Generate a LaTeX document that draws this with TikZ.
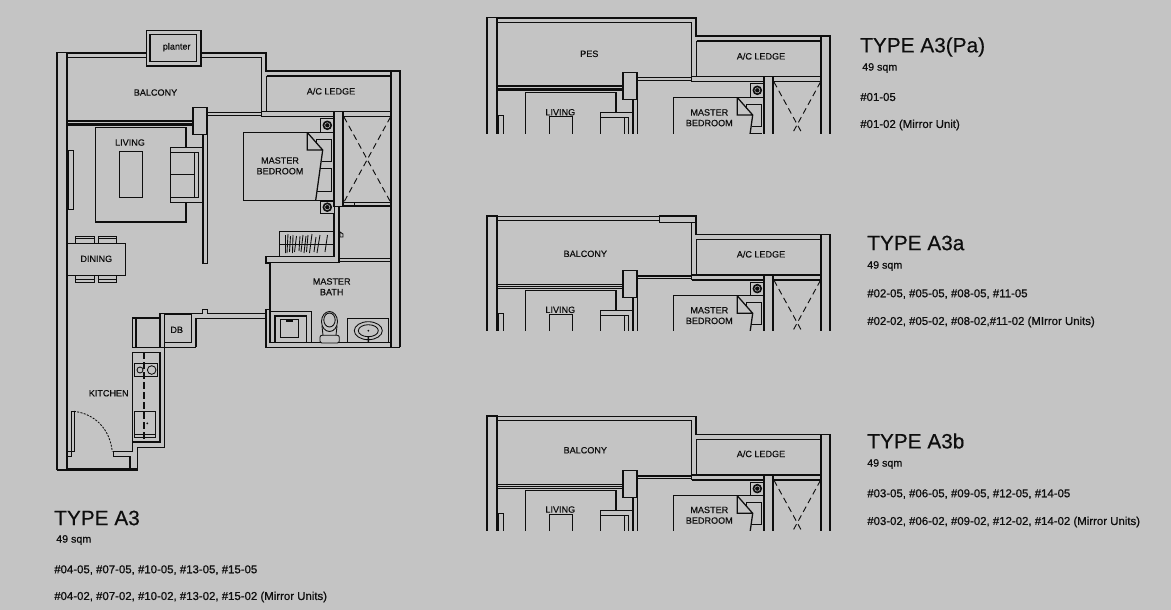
\documentclass[tikz,border=0pt]{standalone}
\usepackage{fontspec}
\setmainfont{Liberation Sans}
\newfontfamily\listfont[FakeBold=0.7]{Liberation Sans}
\newfontfamily\titlefont[FakeBold=0.35]{Liberation Sans}
\newfontfamily\roomfont[FakeBold=0.45]{Liberation Sans}
\usetikzlibrary{positioning}
\definecolor{planbg}{RGB}{196,196,196}
\definecolor{planink}{RGB}{14,14,14}
\tikzset{
    wallline/.style={draw=planink,line width=0.95pt,line join=miter},
    thinline/.style={draw=planink,line width=0.65pt},
    dashline/.style={draw=planink,line width=0.7pt,dash pattern={on 4.5pt off 3pt}},
    roomlabel/.style={inner sep=0pt,align=center,text=planink,yshift=-0.4pt,font=\roomfont\fontsize{6.8}{8}\selectfont},
    typetitle/.style={anchor=west,inner sep=0pt,text=planink,font=\titlefont\fontsize{15.6}{18}\selectfont},
    arealabel/.style={anchor=west,inner sep=0pt,text=planink,yshift=-0.75pt,font=\listfont\fontsize{8}{9}\selectfont},
    unitlist/.style={anchor=west,inner sep=0pt,text=planink,yshift=-0.75pt,font=\listfont\fontsize{8.56}{10}\selectfont}
}
\newcommand{\upperplan}{
    \draw [wallline] (57,470) -- (57,52.7) -- (67,52.7) -- (67,470) ;
    \draw [wallline] (67,53) -- (266,53) -- (266,71) -- (400,71) -- (400,347.3) ;
    \draw [wallline] (391,71) -- (391,347.3) ;
    \draw [wallline] (67,57.3) -- (261.7,57.3) -- (261.7,111.7) ;
    \draw [wallline] (266.5,76) -- (391,76) (266.5,76) -- (266.5,111.7) ;
    \draw [wallline] (261.7,111.7) -- (391,111.7) (261.7,116.7) -- (334,116.7) (343,116.7) -- (391,116.7) (261.7,111.7) -- (261.7,116.7) ;
    \draw [wallline] (207,112.7) -- (261.7,112.7) (207,115.5) -- (261.7,115.5) ;
    \draw [wallline] (67,121) -- (193,121) (67,125) -- (193,125) ;
    \draw [thinline] (67,123) -- (193,123) ;
    \draw [wallline] (193,107.3) rectangle (207,134.5) ;
    \draw [wallline] (203,134.5) -- (203,263.5) -- (207.3,263.5) -- (207.3,134.5) ;
    \draw [wallline] (186,147.5) -- (186,127.3) -- (95.3,127.3) -- (95.3,222) -- (186,222) -- (186,202.7) ;
    \draw [thinline] (119.5,151.5) rectangle (142.5,197.5) ;
    \draw [thinline] (68,150.5) rectangle (73.5,209.5) ;
    \draw [wallline] (170.7,147.3) rectangle (203,202.7) ;
    \draw [thinline] (170.7,152.5) -- (198.5,152.5) -- (198.5,197) -- (170.7,197) (194.7,152.5) -- (194.7,197) (170.7,174.7) -- (194.7,174.7) ;
    \draw [wallline] (334,132.5) -- (243.5,132.5) -- (243.5,200.3) -- (334,200.3) ;
    \draw [wallline] (307.3,132.5) -- (322.7,150) -- (315.7,200.3) (307.3,132.5) -- (307.3,150) -- (322.7,150) ;
    \draw [thinline] (316.7,144) -- (316.7,139.3) -- (331.7,139.3) -- (331.7,161.3) -- (321.7,161.3) ;
    \draw [thinline] (319.5,168.7) -- (331.7,168.7) -- (331.7,191.3) -- (317,191.3) ;
    \draw [wallline] (334,111.7) rectangle (343,206.7) ;
    \draw [dashline] (344,117) -- (390.5,202) (390.5,117) -- (344,202) ;
    \draw [thinline] (320.7,118.7) rectangle (334,132) (320.7,201) rectangle (334,213.3) ;
    \fill [planink] (327.3,125.3) circle (4.8) (327.3,207.2) circle (4.8) ;
    \draw [planbg,line width=0.4pt] (327.3,125.3) circle (2.6) (327.3,207.2) circle (2.6) ;
    \draw [wallline] (343,206) -- (391,206) ;
    \draw [thinline] (343,202.3) -- (391,202.3) (354,202.3) -- (354,206) ;
}
\begin{document}
\begin{tikzpicture}[x=0.75pt,y=0.75pt,yscale=-1,xscale=1]
    \useasboundingbox (0,0) rectangle (1171,610);
    \fill [planbg] (0,0) rectangle (1171,610);

    \upperplan
    \draw [wallline,fill=planbg] (146.5,30.5) rectangle (201,66);
    \draw [wallline] (150,34.5) rectangle (196.5,61.5);
    \draw [wallline] (334,213.3) -- (334,256.7) -- (266,256.7) -- (266,263) -- (270,263) -- (270,309.5) ;
    \draw [wallline] (339,206.7) -- (339,262.3) -- (270,262.3) ;
    \draw [wallline] (339,258.7) -- (391,258.7) (339,261.3) -- (391,261.3) ;
    \draw [thinline] (279.3,231.5) rectangle (334,256) (279.3,244.3) -- (334,244.3) ;
    \draw [thinline] (285.5,235) -- (285.5,253) (288,234) -- (287,253) (290.5,236) -- (289.5,252) (293,235) -- (292.5,253) (296.5,236) -- (294.5,252) (300,236) -- (299,251) (303,235) -- (301,252) (306,236) -- (304,253) (308,235) -- (306.5,252) (312,234) -- (309.5,253) (316,237) -- (314,252) (320,235) -- (317,253) (327.5,235) -- (325,252) ;
    \draw [thinline] (340,232) -- (343,234) -- (343,237) -- (340,237) -- cycle ;

    \draw [wallline] (160,347.3) -- (160,313.3) -- (202.7,313.3) -- (202.7,309.3) -- (207.3,309.3) -- (207.3,313.3) -- (266,313.3) -- (266,309.3) -- (270,309.3) -- (270,313.3) ;
    \draw [wallline] (164.3,347.3) -- (164.3,314.3) -- (191.7,314.3) -- (191.7,342.7) -- (164.3,342.7) ;
    \draw [wallline] (196,347.3) -- (196,318.3) -- (266,318.3) ;
    \draw [wallline] (160,347.3) -- (196,347.3) ;
    \draw [wallline] (266,309.3) -- (266,347.3) -- (400,347.3) ;
    \draw [wallline] (311.7,342.7) -- (391,342.7) ;
    \draw [wallline] (270,313.3) -- (270,342.7) -- (311.7,342.7) -- (311.7,311.7) -- (270,311.7) ;
    \draw [wallline] (275,316) rectangle (306.5,342.7) ;
    \draw [thinline] (280,319.3) rectangle (298.5,337.5) ;
    \fill [planink] (286,319.3) rectangle (292.5,321.5) ;

    \draw [thinline] (329.5,321.5) ellipse (8 and 10) ;
    \draw [thinline] (329.5,320) ellipse (5.7 and 7) ;
    \draw [thinline,fill=planbg,rounded corners=1.5pt] (320,335.3) rectangle (339.3,343) ;
    \draw [thinline] (322,326) -- (323,335.3) (337,326) -- (336,335.3) ;
    \draw [thinline] (347.3,318.3) rectangle (388.3,342.7) ;
    \draw [thinline] (368.3,330.7) ellipse (14 and 9) ;
    \draw [thinline] (368.3,330.7) ellipse (10 and 6) ;
    \fill [planink] (368.3,330.7) circle (1) (367.5,336) rectangle (369.2,342.7) ;

    \draw [wallline] (67.3,243.3) -- (125.7,243.3) -- (125.7,275.3) -- (67.3,275.3) ;
    \draw [thinline] (75.3,243.3) -- (75.3,236) -- (94,236) -- (94,243.3) (75.3,238.5) -- (94,238.5) (98.3,243.3) -- (98.3,236) -- (116.7,236) -- (116.7,243.3) (98.3,238.5) -- (116.7,238.5) ;
    \draw [thinline] (75.3,275.3) -- (75.3,282.3) -- (94,282.3) -- (94,275.3) (75.3,279.5) -- (94,279.5) (98.3,275.3) -- (98.3,282.3) -- (116.7,282.3) -- (116.7,275.3) (98.3,279.5) -- (116.7,279.5) ;

    \draw [wallline] (160,318) -- (132.3,318) -- (132.3,347.3) -- (160,347.3) ;
    \draw [line width=1.4pt,planink] (136,318) -- (136,347.3) ;
    \draw [wallline] (160,352.3) -- (132.7,352.3) -- (132.7,442) -- (160,442) -- (160,352.3) ;
    \draw [wallline] (164.3,342.7) -- (164.3,447.3) -- (137.3,447.3) -- (137.3,470) -- (57,470) ;
    \draw [thinline] (67,468) -- (137.3,468) ;
    \draw [wallline] (130,470) -- (130,456.7) -- (113.3,456.7) -- (113.3,451.7) -- (132.7,451.7) -- (132.7,442) ;
    \draw [thinline] (134.3,363.7) rectangle (157.7,376.7) ;
    \draw [thinline] (140,370) circle (3) (151.7,370) circle (4.3) ;
    \draw [wallline] (134.7,411.7) rectangle (155.3,434.5) ;
    \draw [thinline] (134.7,437.5) -- (155.3,437.5) -- (155.3,434.5) (134.7,434.5) -- (134.7,437.5) ;
    \fill [planink] (147.3,423.3) circle (1) ;
    \draw [line width=1.1pt,planink,dash pattern={on 5pt off 2.5pt}] (144,352.3) -- (144,442) ;
    \draw [thinline] (71.7,411.3) -- (74,411.3) -- (74,451.7) -- (71.7,451.7) -- cycle ;
    \draw [thinline] (67,451.7) -- (71.7,451.7) -- (71.7,456.7) -- (67,456.7) ;
    \draw [thinline,dash pattern={on 1.5pt off 1pt}] (74,411.3) .. controls (96,414) and (110,430) .. (112.3,451.7) ;

    \begin{scope}[shift={(430,-35)}]
        \clip (40,0) rectangle (410,168);
        \upperplan
    \end{scope}
    \begin{scope}[shift={(430,163.3)}]
        \clip (40,0) rectangle (410,167);
        \upperplan
        \draw [wallline,fill=planbg] (229.3,52.7) rectangle (266,59);
    \end{scope}
    \begin{scope}[shift={(430,363.3)}]
        \clip (40,0) rectangle (410,167);
        \upperplan
    \end{scope}

    \node [roomlabel] (planterA) at (176.7,46.7) {planter};
    \node [roomlabel] (balconyA) at (155.5,92) {BALCONY};
    \node [roomlabel] (ledgeA) at (331,90.7) {A/C LEDGE};
    \node [roomlabel] (livingA) at (130,142) {LIVING};
    \node [roomlabel] (bedroomA) at (280,165.3) {MASTER\\BEDROOM};
    \node [roomlabel] (diningA) at (96.3,258.3) {DINING};
    \node [roomlabel] (bathA) at (331.7,286.2) {MASTER\\BATH};
    \node [roomlabel] (dbA) at (176.7,329.3) {DB};
    \node [roomlabel] (kitchenA) at (108.7,392.7) {KITCHEN};

    \node [roomlabel] (pesPa) at (589.3,53.3) {PES};
    \node [roomlabel] (ledgePa) at (761,55.7) {A/C LEDGE};
    \node [roomlabel] (livingPa) at (560.3,111.7) {LIVING};
    \node [roomlabel] (bedroomPa) at (709.3,117.2) {MASTER\\BEDROOM};

    \node [roomlabel] (balconyAa) at (585.3,253.3) {BALCONY};
    \node [roomlabel] (ledgeAa) at (761,253.7) {A/C LEDGE};
    \node [roomlabel] (livingAa) at (560.3,309.3) {LIVING};
    \node [roomlabel] (bedroomAa) at (709.3,315) {MASTER\\BEDROOM};

    \node [roomlabel] (balconyAb) at (585.3,449.7) {BALCONY};
    \node [roomlabel] (ledgeAb) at (761,453.3) {A/C LEDGE};
    \node [roomlabel] (livingAb) at (560.3,509) {LIVING};
    \node [roomlabel] (bedroomAb) at (709.3,514.7) {MASTER\\BEDROOM};

    \node [typetitle] (titleA) at (54,518) {TYPE A3};
    \node [arealabel] (areaA) at (56,539) {49 sqm};
    \node [unitlist] (unitsA) at (54,569) {\#04-05, \#07-05, \#10-05, \#13-05, \#15-05};
    \node [unitlist] (mirrorA) at (54,596) {\#04-02, \#07-02, \#10-02, \#13-02, \#15-02 (Mirror Units)};

    \node [typetitle] (titlePa) at (860,47) {TYPE A3(Pa)};
    \node [arealabel] (areaPa) at (862,67) {49 sqm};
    \node [unitlist] (unitsPa) at (860,96) {\#01-05};
    \node [unitlist] (mirrorPa) at (860,124) {\#01-02 (Mirror Unit)};

    \node [typetitle] (titleAa) at (867,243) {TYPE A3a};
    \node [arealabel] (areaAa) at (867,265) {49 sqm};
    \node [unitlist] (unitsAa) at (867,293) {\#02-05, \#05-05, \#08-05, \#11-05};
    \node [unitlist] (mirrorAa) at (867,321) {\#02-02, \#05-02, \#08-02,\#11-02 (MIrror Units)};

    \node [typetitle] (titleAb) at (867,441) {TYPE A3b};
    \node [arealabel] (areaAb) at (867,463) {49 sqm};
    \node [unitlist] (unitsAb) at (867,493) {\#03-05, \#06-05, \#09-05, \#12-05, \#14-05};
    \node [unitlist] (mirrorAb) at (867,521) {\#03-02, \#06-02, \#09-02, \#12-02, \#14-02 (Mirror Units)};
\end{tikzpicture}
\end{document}
